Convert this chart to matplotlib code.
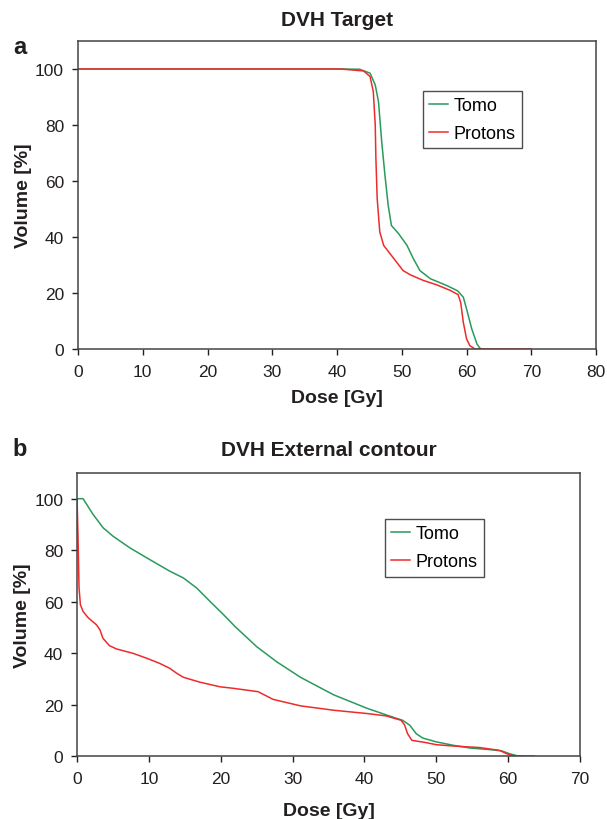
import matplotlib
matplotlib.use("Agg")
import matplotlib.pyplot as plt

plt.rcParams['font.family'] = ['Liberation Sans', 'DejaVu Sans']

# Panel a: DVH Target
a_tomo_dose = [0, 40.5, 43.5, 45.1, 45.9, 46.4, 46.9, 47.4, 47.9, 48.4, 49.5, 50.8, 51.8, 52.8, 54.4, 56.9, 58.6, 59.5, 60.0, 60.8, 61.6, 62.1, 62.5]
a_tomo_vol = [100, 100, 99.9, 98.5, 94.3, 88.3, 74, 62, 51.3, 44.1, 41.2, 37, 32.2, 28, 25.1, 22.7, 20.8, 18.5, 14.3, 7.2, 1.8, 0.2, 0]
a_prot_dose = [0, 40.5, 44.1, 45.1, 45.6, 45.9, 46.0, 46.2, 46.6, 47.2, 48.2, 49.2, 50.2, 51.3, 53.3, 55.4, 57.5, 58.7, 59.1, 59.5, 60.0, 60.5, 61.3, 70]
a_prot_vol = [100, 100, 99.3, 97.3, 91.9, 80, 68, 53.7, 41.8, 37, 34, 31, 28, 26.5, 24.5, 22.9, 20.9, 19.4, 16.5, 9.5, 3.6, 1.2, 0, 0]

# Panel b: DVH External contour
b_tomo_dose = [0, 0.84, 2.23, 3.63, 5.02, 7.35, 10.14, 12.93, 14.8, 16.65, 18.5, 20.4, 22.0, 25.0, 27.8, 31.1, 35.7, 40.4, 44.5, 45.3, 46.3, 47.2, 48.1, 50.0, 52.3, 54.7, 57.4, 59.1, 60.2, 61.4, 62.0]
b_tomo_vol = [100, 100, 93.9, 88.7, 85.4, 80.9, 76.3, 71.8, 69.2, 65.3, 60.1, 54.9, 50.3, 42.5, 36.6, 30.6, 23.8, 18.5, 14.6, 13.9, 12.0, 8.7, 7.0, 5.5, 4.2, 3.1, 2.5, 2.0, 0.9, 0, 0]
b_prot_dose = [0, 0.14, 0.28, 0.47, 0.84, 1.53, 2.7, 3.2, 3.6, 4.5, 5.5, 7.8, 9.7, 11.5, 12.9, 13.9, 14.8, 17.1, 19.9, 21.8, 25.2, 27.3, 31.1, 35.7, 40.4, 43.0, 45.1, 45.6, 46.0, 46.6, 48.6, 50.0, 52.3, 56.0, 58.8, 59.8, 60.7, 63.6]
b_prot_vol = [100, 84.8, 65.3, 58.8, 56.2, 53.8, 51.0, 49.0, 45.8, 42.9, 41.6, 39.9, 38.0, 36.0, 34.1, 32.1, 30.6, 28.7, 26.9, 26.3, 25.0, 22.0, 19.5, 17.8, 16.5, 15.6, 13.9, 12.0, 8.7, 6.1, 5.2, 4.4, 3.9, 3.3, 2.2, 0.9, 0, 0]

series_labels = ["Tomo", "Protons"]
titles = ["DVH Target", "DVH External contour"]
panel_letters = ["a", "b"]

GREEN = "#2a9a5c"
RED = "#ee2b2b"
TXT = "#231f20"

fig = plt.figure(figsize=(6.07, 8.2), dpi=100)
ax1 = fig.add_axes([0.1285, 0.5732, 0.8535, 0.3756])
ax2 = fig.add_axes([0.1269, 0.0768, 0.8286, 0.3452])

def style(ax, xmax, xticks, xlabelpad):
    ax.set_xlim(0, xmax)
    ax.set_ylim(0, 110)
    ax.set_xticks(xticks)
    ax.set_yticks([0, 20, 40, 60, 80, 100])
    ax.tick_params(direction='out', length=4, width=1, labelsize=12.5, colors=TXT)
    ax.tick_params(axis='x', pad=7)
    ax.tick_params(axis='y', pad=6)
    for s in ax.spines.values():
        s.set_color('#444444')
        s.set_linewidth(1.1)
    ax.set_xlabel("Dose [Gy]", fontsize=14, fontweight='bold', color=TXT, labelpad=xlabelpad)
    ax.set_ylabel("Volume [%]", fontsize=14, fontweight='bold', color=TXT, labelpad=2)

def legend(ax, anchor):
    leg = ax.legend(loc='upper left', bbox_to_anchor=anchor, fontsize=13,
                    frameon=True, fancybox=False, edgecolor='#222222', handlelength=1.05,
                    handletextpad=0.3, borderpad=0.35, labelspacing=0.6, borderaxespad=0)
    leg.get_frame().set_linewidth(1.0)

ax1.plot(a_tomo_dose, a_tomo_vol, color=GREEN, lw=1.1, label=series_labels[0])
ax1.plot(a_prot_dose, a_prot_vol, color=RED, lw=1.1, label=series_labels[1])
style(ax1, 80, range(0, 81, 10), 7)
legend(ax1, (0.666, 0.838))

ax2.plot(b_tomo_dose, b_tomo_vol, color=GREEN, lw=1.1, label=series_labels[0])
ax2.plot(b_prot_dose, b_prot_vol, color=RED, lw=1.1, label=series_labels[1])
style(ax2, 70, range(0, 71, 10), 11)
legend(ax2, (0.612, 0.837))

fig.text(337/607, 1 - 20/820, titles[0], ha='center', va='center', fontsize=15, fontweight='bold', color=TXT)
fig.text(329/607, 1 - 451/820, titles[1], ha='center', va='center', fontsize=15, fontweight='bold', color=TXT)
fig.text(20/607, 1 - 48/820, panel_letters[0], ha='center', va='center', fontsize=17, fontweight='bold', color=TXT)
fig.text(20/607, 1 - 449/820, panel_letters[1], ha='center', va='center', fontsize=17, fontweight='bold', color=TXT)

fig.savefig("out.png", dpi=100)
